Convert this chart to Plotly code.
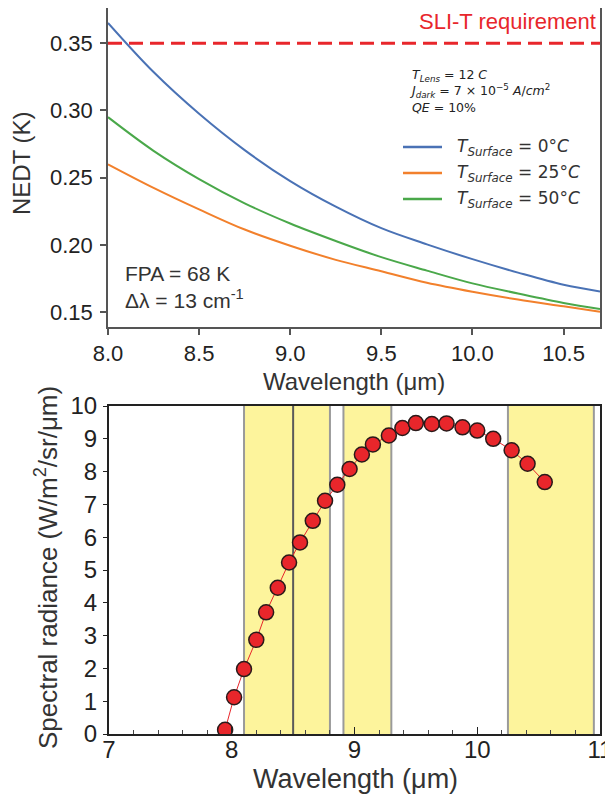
import plotly.graph_objects as go

# ---------------- Top panel data (NEDT vs wavelength) ----------------
wl_top = [8.0, 8.25, 8.5, 8.75, 9.0, 9.25, 9.5, 9.75, 10.0, 10.25, 10.5, 10.7]
nedt_0c = [0.365, 0.3285, 0.2975, 0.2705, 0.2475, 0.2285, 0.2125, 0.2005, 0.1895, 0.1795, 0.1705, 0.1655]
nedt_25c = [0.260, 0.2425, 0.2265, 0.2115, 0.1995, 0.189, 0.1805, 0.172, 0.1653, 0.1595, 0.1545, 0.1505]
nedt_50c = [0.295, 0.270, 0.249, 0.231, 0.216, 0.203, 0.191, 0.181, 0.1715, 0.164, 0.157, 0.1525]
surface_temps = [0, 25, 50]
requirement = 0.35
top_xticks = [8.0, 8.5, 9.0, 9.5, 10.0, 10.5]
top_yticks = [0.15, 0.20, 0.25, 0.30, 0.35]

# ---------------- Bottom panel data (spectral radiance) ----------------
wl_pts = [7.946, 8.019, 8.10, 8.20, 8.28, 8.375, 8.467, 8.556, 8.66, 8.76, 8.86, 8.96,
          9.06, 9.15, 9.28, 9.39, 9.50, 9.63, 9.75, 9.88, 10.00, 10.13, 10.28, 10.41, 10.55]
radiance = [0.13, 1.12, 1.98, 2.87, 3.71, 4.46, 5.23, 5.84, 6.50, 7.11, 7.60, 8.08,
            8.52, 8.83, 9.10, 9.33, 9.48, 9.45, 9.47, 9.35, 9.25, 9.00, 8.65, 8.24, 7.68]
bands = [(8.10, 8.50), (8.50, 8.80), (8.91, 9.30), (10.25, 10.95)]
band_edges = [8.10, 8.50, 8.80, 8.91, 9.30, 10.25, 10.95]
bot_xticks = [7, 8, 9, 10, 11]
bot_yticks = list(range(0, 11))

C_BLUE = "#4a72b5"
C_ORANGE = "#f2802c"
C_GREEN = "#4aa84a"
C_RED = "#e8262b"
ARIAL = "Liberation Sans, Arial"
DEJAVU = "DejaVu Sans"

# page is shown with an 8px body margin; figure is sized to fit the window
W, H = 605, 787
PL, PR, PT, PB = 108, 600, 8, 734          # plot area in page pixels
ML, MR, MT, MB = PL - 8, W - (PR - 8), 0, H - (PB - 8)


def px(xp):
    return (xp - PL) / (PR - PL)


def py(yp):
    return (PB - yp) / (PB - PT)


fig = go.Figure()

colors = [C_BLUE, C_ORANGE, C_GREEN]
series = [nedt_0c, nedt_25c, nedt_50c]


def tsurf(v):
    return f"<i>T</i><sub><i>Surface</i></sub> = {v}°<i>C</i>"


for t, ys, c in zip(surface_temps, series, colors):
    fig.add_trace(go.Scatter(x=wl_top, y=ys, mode="lines",
                             line=dict(color=c, width=2, shape="spline"),
                             name=tsurf(t), showlegend=False, xaxis="x", yaxis="y"))
fig.add_trace(go.Scatter(x=[8.0, 10.7], y=[requirement, requirement], mode="lines",
                         line=dict(color=C_RED, width=3, dash="14px,7px"), showlegend=False,
                         xaxis="x", yaxis="y"))

fig.add_trace(go.Scatter(x=wl_pts, y=radiance, mode="lines+markers",
                         line=dict(color=C_RED, width=1),
                         marker=dict(size=15, color=C_RED, line=dict(color="#2a1a1a", width=1.5)),
                         showlegend=False, xaxis="x2", yaxis="y2"))

shapes = []
for (a, b) in bands:
    shapes.append(dict(type="rect", xref="x2", yref="y2 domain", x0=a, x1=b, y0=0, y1=1,
                       fillcolor="#fdf49c", line=dict(width=0), layer="below"))
for xv in band_edges:
    col = "#5a5a5a" if xv == 8.50 else "#9a9a9a"
    shapes.append(dict(type="line", xref="x2", yref="y2 domain", x0=xv, x1=xv, y0=0, y1=1,
                       line=dict(color=col, width=2), layer="below"))

annotations = []
# manual legend (lines + labels)
legend_rows = [147, 173, 199]
for t, c, yr in zip(surface_temps, colors, legend_rows):
    shapes.append(dict(type="line", xref="paper", yref="paper", x0=px(403), x1=px(442),
                       y0=py(yr), y1=py(yr), line=dict(color=c, width=2.5)))
    annotations.append(dict(text=tsurf(t), xref="paper", yref="paper", x=px(455), y=py(yr),
                            xanchor="left", yanchor="middle", showarrow=False,
                            font=dict(family=DEJAVU, size=17, color="#333")))

annotations += [
    dict(text="SLI-T requirement", xref="paper", yref="paper", x=px(598), y=py(22),
         xanchor="right", yanchor="middle", showarrow=False,
         font=dict(family=ARIAL, size=22, color=C_RED)),
    dict(text="<i>T</i><sub><i>Lens</i></sub> = 12 <i>C</i><br>"
              "<i>J</i><sub><i>dark</i></sub> = 7 × 10<sup>−5</sup> <i>A</i>/<i>cm</i><sup>2</sup><br>"
              "<i>QE</i> = 10%",
         xref="paper", yref="paper", x=px(407), y=py(65), xanchor="left", yanchor="top",
         align="left", showarrow=False,
         font=dict(family=DEJAVU, size=12.5, color="#222")),
    dict(text="FPA = 68 K<br>Δλ = 13 cm<sup>-1</sup>", xref="paper", yref="paper",
         x=px(123), y=py(287), xanchor="left", yanchor="middle", align="left", showarrow=False,
         font=dict(family=ARIAL, size=21, color="#333")),
    # axis titles
    dict(text="Wavelength (μm)", xref="paper", yref="paper", x=px(354), y=py(381),
         xanchor="center", yanchor="middle", showarrow=False,
         font=dict(family=ARIAL, size=24, color="#333")),
    dict(text="NEDT (K)", xref="paper", yref="paper", x=px(21), y=py(163),
         xanchor="center", yanchor="middle", showarrow=False, textangle=-90,
         font=dict(family=ARIAL, size=24, color="#333")),
    dict(text="Wavelength (μm)", xref="paper", yref="paper", x=px(355), y=py(779),
         xanchor="center", yanchor="middle", showarrow=False,
         font=dict(family=ARIAL, size=27, color="#333")),
    dict(text="Spectral radiance (W/m<sup>2</sup>/sr/μm)", xref="paper", yref="paper",
         x=px(46), y=py(568), xanchor="center", yanchor="middle", showarrow=False, textangle=-90,
         font=dict(family=ARIAL, size=26, color="#333")),
]

top_font = dict(family=ARIAL, size=22, color="#222")
bot_font = dict(family=ARIAL, size=24, color="#222")

fig.update_layout(
    width=W, height=H,
    margin=dict(l=ML, r=MR, t=MT, b=MB, autoexpand=False),
    paper_bgcolor="white", plot_bgcolor="white",
    showlegend=False,
    xaxis=dict(domain=[0, 1], range=[8.0, 10.7], anchor="y", automargin=False,
               tickvals=top_xticks, ticktext=[f"{v:.1f}" for v in top_xticks],
               ticks="outside", ticklen=6, tickcolor="#555", tickwidth=1.5,
               showline=True, linecolor="#555", linewidth=1.5, mirror=True,
               showgrid=False, zeroline=False, tickfont=top_font, ticklabelstandoff=0),
    yaxis=dict(domain=[py(327), 1], range=[0.1391, 0.3761], anchor="x", automargin=False,
               tickvals=top_yticks, ticktext=[f"{v:.2f}" for v in top_yticks],
               ticks="outside", ticklen=6, tickcolor="#555", tickwidth=1.5,
               showline=True, linecolor="#555", linewidth=1.5, mirror=True,
               showgrid=False, zeroline=False, tickfont=top_font, ticklabelstandoff=3),
    xaxis2=dict(domain=[px(109), 1], range=[7, 11], anchor="y2", automargin=False,
                tickvals=bot_xticks, ticks="inside", ticklen=7, tickcolor="#222",
                minor=dict(dtick=0.2, ticks="inside", ticklen=4, tickcolor="#444"),
                showline=True, linecolor="#222", linewidth=2, mirror=True, showgrid=False,
                zeroline=False, tickfont=bot_font, ticklabelstandoff=-7),
    yaxis2=dict(domain=[0, py(406)], range=[0, 10], anchor="x2", automargin=False,
                tickvals=bot_yticks, ticks="outside", ticklen=4, tickcolor="#222",
                showline=True, linecolor="#222", linewidth=2, mirror=True, showgrid=False,
                zeroline=False, tickfont=bot_font, ticklabelstandoff=1),
    shapes=shapes,
    annotations=annotations,
)

fig.write_html("out.html")
